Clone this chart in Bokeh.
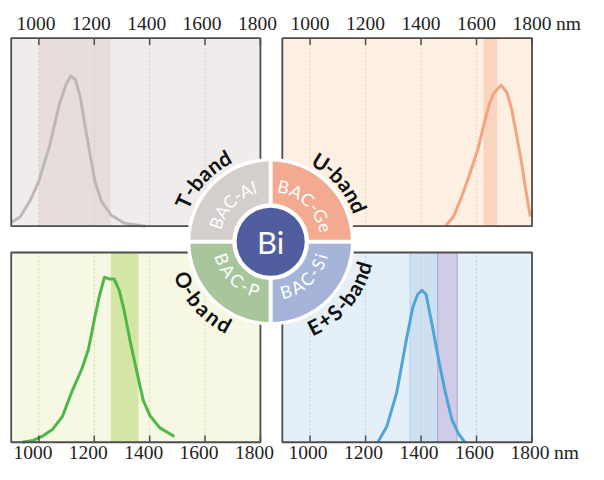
import math
from bokeh.plotting import figure
from bokeh.models import Range1d, ColumnDataSource
from bokeh.embed import file_html
from bokeh.resources import INLINE
from bokeh.core.properties import value

# ---------------- data ----------------
tick_values = [1000, 1200, 1400, 1600, 1800]
tick_labels = ["1000", "1200", "1400", "1600", "1800"]
unit_label = "nm"
wl_min, wl_max = 900, 1800

# BAC-Al emission (T-band)
al_wl = [900, 933, 968, 1000, 1039, 1074, 1097, 1115, 1132, 1149, 1167, 1185, 1202, 1225, 1260, 1309, 1384]
al_int = [0.02, 0.05, 0.135, 0.24, 0.43, 0.65, 0.75, 0.80, 0.78, 0.69, 0.53, 0.38, 0.24, 0.135, 0.06, 0.016, 0.0]
# BAC-Ge emission (U-band)
ge_wl = [1488, 1517, 1546, 1575, 1605, 1628, 1646, 1663, 1689, 1710, 1727, 1745, 1763, 1780, 1794]
ge_int = [0.0, 0.052, 0.155, 0.275, 0.41, 0.55, 0.65, 0.71, 0.75, 0.71, 0.62, 0.48, 0.33, 0.17, 0.05]
# BAC-P emission (O-band)
p_wl = [939, 980, 1015, 1050, 1085, 1120, 1156, 1179, 1202, 1220, 1237, 1255, 1272, 1290, 1307, 1330, 1354, 1377, 1401, 1436, 1489]
p_int = [0.0, 0.01, 0.034, 0.069, 0.136, 0.27, 0.39, 0.49, 0.66, 0.78, 0.87, 0.86, 0.86, 0.80, 0.70, 0.53, 0.37, 0.22, 0.14, 0.077, 0.03]
# BAC-Si emission (E+S-band)
si_wl = [1244, 1277, 1312, 1347, 1370, 1388, 1403, 1418, 1441, 1464, 1488, 1511, 1535, 1558]
si_int = [0.0, 0.085, 0.26, 0.54, 0.71, 0.78, 0.80, 0.78, 0.61, 0.43, 0.26, 0.12, 0.045, 0.0]

# telecom bands (nm)
t_band = (1000, 1260)
u_band = (1625, 1675)
o_band = (1260, 1360)
e_band = (1360, 1460)
s_band = (1460, 1530)

band_names = ["T-band", "U-band", "O-band", "E+S-band"]
host_names = ["BAC-Al", "BAC-Ge", "BAC-P", "BAC-Si"]
center_label = "Bi"

# ---------------- layout ----------------
# main ranges are a 604 x 480 layout grid squeezed into the 588 x 464 canvas
W, H = 588, 464
GW, GH = 604, 480
p = figure(width=W, height=H, x_range=Range1d(0, GW), y_range=Range1d(0, GH),
           x_axis_type=None, y_axis_type=None, toolbar_location=None,
           output_backend="svg", min_border=0)
p.outline_line_color = None
p.background_fill_color = "white"
p.border_fill_color = "white"

cols = {"L": (11, 267), "R": (289.5, 546)}
rows = {"T": (GH - 233.5, GH - 39), "B": (GH - 457, GH - 260.7)}
span = wl_max - wl_min
p.extra_x_ranges = {k: Range1d(wl_min - a * span / (b - a), wl_min + (GW - a) * span / (b - a))
                    for k, (a, b) in cols.items()}
p.extra_y_ranges = {k: Range1d(-a / (b - a), (GH - a) / (b - a)) for k, (a, b) in rows.items()}

panels = [
    dict(col="L", row="T", bg="#F0ECEB", grid="#CFC8C6", wl=al_wl, it=al_int, color="#BDB8B7",
         bands=[(t_band, "#E7DEDC", None)]),
    dict(col="R", row="T", bg="#FDEFE2", grid="#E8D3C3", wl=ge_wl, it=ge_int, color="#F3A57F",
         bands=[(u_band, "#F9D5BF", None)]),
    dict(col="L", row="B", bg="#F7F8E3", grid="#CFDE9A", wl=p_wl, it=p_int, color="#4DB848",
         bands=[(o_band, "#D4E6A6", None)]),
    dict(col="R", row="B", bg="#E4EFF8", grid="#BCCFDF", wl=si_wl, it=si_int, color="#4FA6D6",
         bands=[(e_band, "#CEE0F0", "#BBD0E8"), (s_band, "#D0CCE6", "#ABA7D6")]),
]

serif = value("Liberation Serif")
for pn in panels:
    xr, yr = pn["col"], pn["row"]
    kw = dict(x_range_name=xr, y_range_name=yr)
    p.quad(left=[wl_min], right=[wl_max], bottom=[0], top=[1], fill_color=pn["bg"], line_color=None, **kw)
    for (lo, hi), fc, lc in pn["bands"]:
        p.quad(left=[lo], right=[hi], bottom=[0], top=[1], fill_color=fc,
               line_color=lc, line_width=1, **kw)
    gx = tick_values[:-1]
    p.segment(x0=gx, x1=gx, y0=[0] * len(gx), y1=[1] * len(gx), line_color=pn["grid"],
              line_width=1, line_dash="2 2", **kw)
    p.line(pn["wl"], pn["it"], line_color=pn["color"], line_width=3, line_join="round", **kw)
    a, b = rows[yr]
    tl = 7 / (b - a)
    if yr == "T":
        p.segment(x0=tick_values, x1=tick_values, y0=[1] * 5, y1=[1 - tl] * 5,
                  line_color="#4d4d4d", line_width=1.5, **kw)
    else:
        p.segment(x0=tick_values, x1=tick_values, y0=[0] * 5, y1=[tl] * 5,
                  line_color="#4d4d4d", line_width=1.5, **kw)
    p.quad(left=[wl_min], right=[wl_max], bottom=[0], top=[1], fill_color=None,
           line_color="#4d4d4d", line_width=1.8, **kw)

    # tick labels (x in wavelength scale, y in layout grid)
    ly = GH - 24 if yr == "T" else GH - 468
    xoff = {("L", "T"): -3, ("R", "T"): 0, ("L", "B"): -6, ("R", "B"): -2}[(xr, yr)]
    p.text(x=tick_values, y=[ly] * 5, text=tick_labels, x_range_name=xr,
           text_font=serif, text_font_size="19.5px", text_color="#222222",
           text_align="center", text_baseline="middle", x_offset=xoff)
    if xr == "R":
        p.text(x=[tick_values[-1]], y=[ly], text=[unit_label], x_range_name=xr,
               text_font=serif, text_font_size="19.5px", text_color="#222222",
               text_align="left", text_baseline="middle", x_offset=xoff + 24)

# ---------------- central emblem ----------------
cx, cy = 277.5, GH - 249.5
p.circle(x=[cx], y=[cy], radius=86, fill_color="white", line_color=None)
seg_colors = ["#F3AA90", "#D4CECD", "#A9C59C", "#A7B4D9"]  # Ge, Al, P, Si (TR, TL, BL, BR)
starts = [0, 0.5 * math.pi, math.pi, 1.5 * math.pi]
p.annular_wedge(x=[cx] * 4, y=[cy] * 4, inner_radius=39.5, outer_radius=82.5,
                start_angle=starts, end_angle=[s + 0.5 * math.pi for s in starts],
                fill_color=seg_colors, line_color=None)
p.segment(x0=[cx - 86, cx], y0=[cy, cy - 86], x1=[cx + 86, cx], y1=[cy, cy + 86],
          line_color="white", line_width=4)
p.circle(x=[cx], y=[cy], radius=35, fill_color="#505D9F", line_color=None)
p.text(x=[cx], y=[cy], text=[center_label], text_font=value("Lato"), text_font_size="31px",
       text_color="white", text_align="center", text_baseline="middle")


def cw(ch):
    if ch in "Iil":
        return 0.28
    if ch == "-":
        return 0.36
    if ch == "+":
        return 0.58
    if ch.isupper():
        return 0.66
    return 0.56


def arc_text(s, r, a0, a1, outward, size, color, bold):
    ws = [cw(c) for c in s]
    cum, acc = [], 0.0
    for w in ws:
        cum.append(acc + w / 2)
        acc += w
    xs, ys, ang = [], [], []
    for u in cum:
        t = (u - cum[0]) / (cum[-1] - cum[0])
        a = math.radians(a0 + t * (a1 - a0))
        xs.append(cx + r * math.cos(a))
        ys.append(cy + r * math.sin(a))
        ang.append(a - math.pi / 2 if outward else a + math.pi / 2)
    src = ColumnDataSource(dict(x=xs, y=ys, t=list(s), a=ang))
    p.text(x="x", y="y", text="t", angle="a", source=src, text_font=value("Lato"),
           text_font_size=size, text_color=color, text_align="center", text_baseline="middle",
           text_font_style="bold" if bold else "normal")


# band labels around the ring
arc_text(band_names[0], 99, 155, 119, True, "21px", "#111111", True)
arc_text(band_names[1], 98, 58, 22, True, "21px", "#111111", True)
arc_text(band_names[2], 97, 204, 241, False, "21px", "#111111", True)
arc_text(band_names[3], 98, 297, 344, False, "21px", "#111111", True)
# host glasses in the ring
arc_text(host_names[0], 59, 161, 107, True, "17.5px", "white", False)
arc_text(host_names[1], 58, 77, 15, True, "17.5px", "white", False)
arc_text(host_names[2], 53, 200, 251, False, "17.5px", "white", False)
arc_text(host_names[3], 54, 287, 344, False, "17.5px", "white", False)

open("out.html", "w").write(file_html(p, INLINE))
